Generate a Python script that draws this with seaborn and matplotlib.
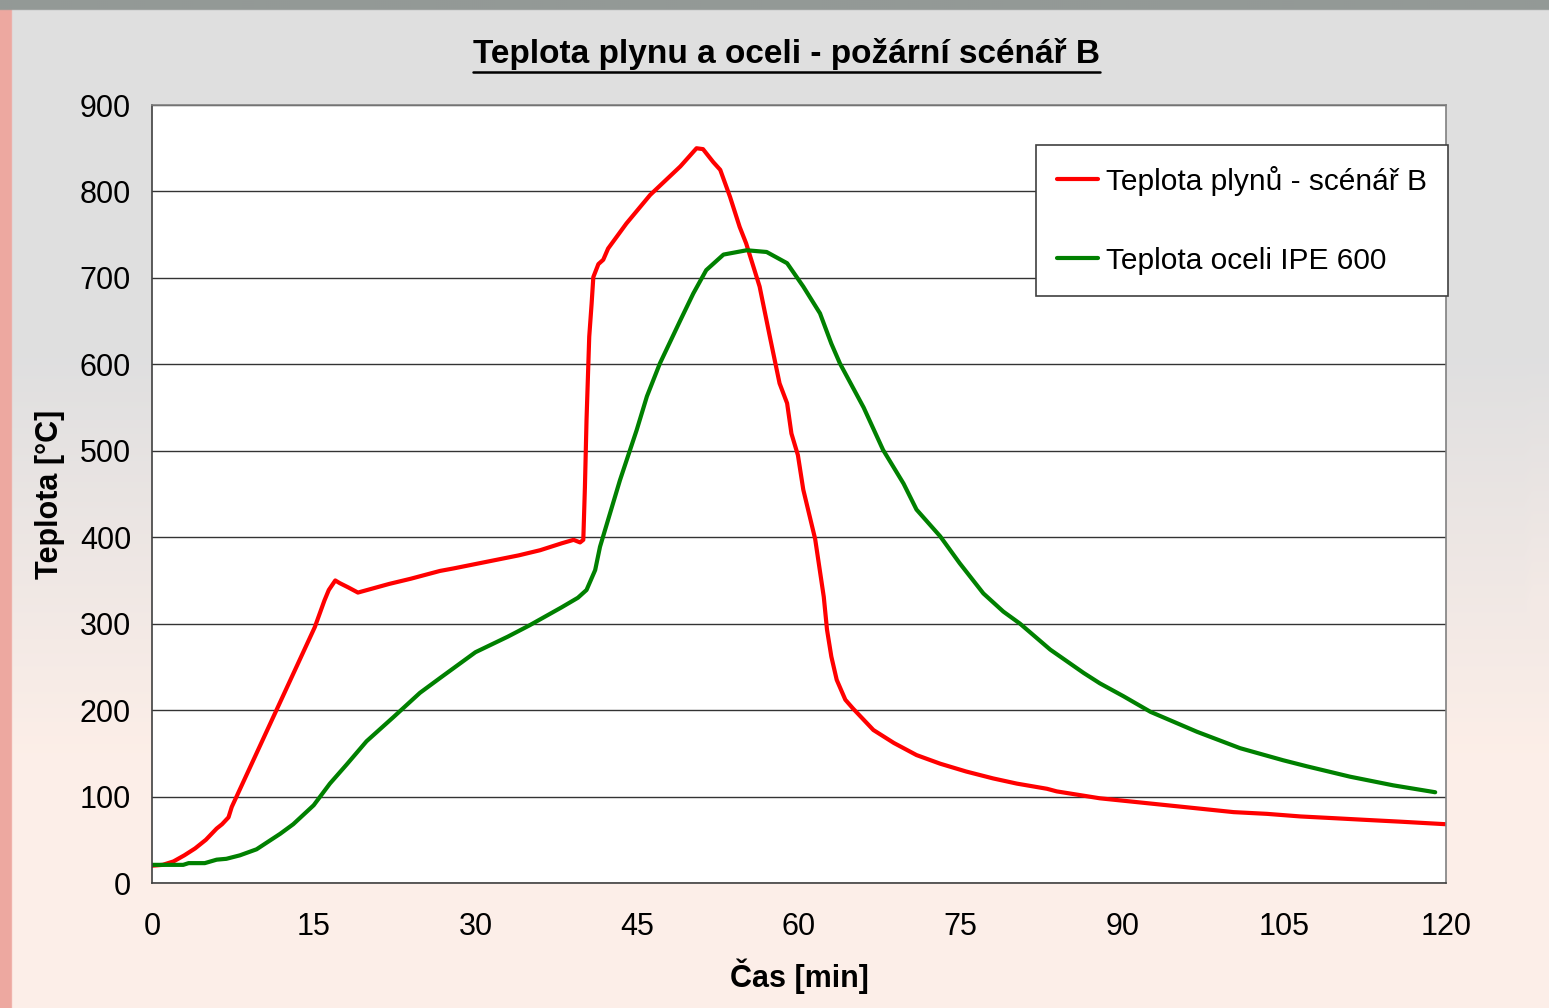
import numpy as np
import pandas as pd
import matplotlib
matplotlib.use("Agg")
import matplotlib.pyplot as plt
import seaborn as sns
from matplotlib.lines import Line2D

# Gas temperature, fire scenario B  [min, °C]
gas_time = [0, 1, 2, 3, 4, 5, 6, 6.5, 7.1, 7.4, 15.1, 16.0, 16.4, 17.0, 17.4,
            18.2, 19.1, 22, 24, 26.7, 28, 30, 32, 34, 36, 38, 39.1, 39.7, 40.0,
            40.15, 40.3, 40.55, 40.77, 40.93, 41.4, 41.85, 42.3, 44.0, 46.2, 49.0,
            50.5, 51.1, 52.05, 52.7, 53.6, 54.5, 55.1, 56.35, 57.3, 58.2, 58.9,
            59.3, 59.9, 60.4, 61.5, 62.3, 62.6, 63.0, 63.5, 64.3, 65.0, 66.9,
            68.8, 70.9, 73.1, 75.5, 78.0, 80.2, 83.0, 83.9, 87.9, 91, 94.1, 97.2,
            100.3, 103.4, 106.5, 109.6, 112.6, 115.7, 120]
gas_temp = [20, 21, 25, 32, 40, 50, 63, 68, 76, 88, 296, 327, 339, 350, 347,
            342, 336, 346, 352, 361, 364, 369, 374, 379, 385, 393, 397, 394, 397,
            458, 536, 632, 670, 701, 716, 721, 734, 763, 796, 829,
            850, 849, 834, 825, 794, 759, 740, 690, 632, 578, 555,
            520, 495, 455, 398, 331, 293, 262, 235, 212, 202, 177,
            162, 148, 138, 129, 121, 115, 109, 106, 98, 94, 90, 86,
            82, 80, 77, 75, 73, 71, 68]

# Steel temperature, IPE 600 section  [min, °C]
steel_time = [0, 2.9, 3.4, 4.9, 6.0, 6.9, 8.15, 9.7, 11.9, 13.1, 15.0, 16.5,
              18.05, 19.9, 22.4, 24.85, 26.7, 30, 33, 35, 38, 39.5, 40.3, 41.1,
              41.55, 43.4, 44.95, 45.9, 47.1, 49.0, 50.2, 51.4, 53.0, 55.15, 57.0,
              58.9, 60.4, 61.95, 63.0, 63.8, 66, 67.8, 69.7, 70.9, 73.1, 74.9,
              77.1, 78.95, 80.5, 83.3, 86.4, 87.9, 90.1, 92.6, 96.9, 100.9, 104.9,
              107.1, 111.1, 115.1, 119.0]
steel_temp = [21, 21, 23, 23, 27, 28, 32, 39, 57, 68, 90, 115,
              137, 164, 192, 220, 237, 267, 285, 298, 319, 330, 339, 362,
              389, 466, 524, 563, 601, 651, 682, 709, 727, 732, 730,
              717, 690, 659, 624, 601, 550, 501, 462, 432, 401, 370,
              335, 314, 300, 270, 243, 231, 216, 198, 175, 156, 142,
              135, 123, 113, 105]

x_ticks = list(range(0, 121, 15))
y_ticks = list(range(0, 901, 100))
gas_label = "Teplota plynů - scénář B"
steel_label = "Teplota oceli IPE 600"
title_text = "Teplota plynu a oceli - požární scénář B"

sns.set_style("white")
plt.rcParams["font.family"] = ["Liberation Sans", "DejaVu Sans"]
plt.rcParams["text.color"] = "black"
plt.rcParams["axes.labelcolor"] = "black"

fig = plt.figure(figsize=(15.49, 10.08), dpi=100)

# soft warm backdrop behind the chart
bg = fig.add_axes([0, 0, 1, 1], zorder=-10)
H, W = 504, 775
yy = np.linspace(0, 1, H)[:, None]
xx = np.linspace(0, 1, W)[None, :]
gray = np.array([0.875, 0.875, 0.878])
warm = np.array([0.99, 0.935, 0.91])
blend = np.clip((yy - 0.35) / 0.4, 0, 1)
blend = np.maximum(blend, 0.7 * np.clip((xx - 0.94) / 0.05, 0, 1) * np.clip((yy - 0.35) / 0.25, 0, 1))
img = gray[None, None, :] * (1 - blend[..., None]) + warm[None, None, :] * blend[..., None]
img[:, :6, :] = [0.93, 0.66, 0.63]
img[:5, :, :] = [0.58, 0.6, 0.59]
bg.imshow(img, aspect="auto", extent=[0, 1, 0, 1], origin="upper")
bg.set_axis_off()

ax = fig.add_axes([0.0981, 0.124, 0.8354, 0.7718])
ax.set_facecolor("white")

sns.lineplot(x=gas_time, y=gas_temp, ax=ax, color="#ff0000", linewidth=3,
             label=gas_label, sort=False, estimator=None)
sns.lineplot(x=steel_time, y=steel_temp, ax=ax, color="#008000", linewidth=3,
             label=steel_label, sort=False, estimator=None)

ax.set_xlim(0, 120)
ax.set_ylim(0, 900)
ax.set_xticks(x_ticks)
ax.set_yticks(y_ticks)
ax.yaxis.grid(True, color="#333333", linewidth=1.0)
ax.xaxis.grid(False)
ax.set_axisbelow(True)
ax.tick_params(axis="both", direction="out", length=7, width=1.0,
               color="#404040", labelsize=22, labelcolor="black")
ax.tick_params(axis="x", pad=14)
ax.tick_params(axis="y", pad=8)
for side in ("left", "bottom"):
    ax.spines[side].set_color("#404040")
    ax.spines[side].set_linewidth(1.2)
for side in ("right", "top"):
    ax.spines[side].set_color("#808080")
    ax.spines[side].set_linewidth(1.2)

ax.set_xlabel("Čas [min]", fontsize=22, fontweight="bold", labelpad=12)
ax.set_ylabel("Teplota [°C]", fontsize=22, fontweight="bold", labelpad=11)

leg = ax.legend(loc="upper left", bbox_to_anchor=(0.683, 0.9486), fontsize=21.5,
                frameon=True, fancybox=False, borderpad=0.7, labelspacing=1.7,
                handlelength=1.4, handletextpad=0.25, borderaxespad=0)
leg.get_frame().set_edgecolor("#404040")
leg.get_frame().set_linewidth(1.2)
leg.get_frame().set_facecolor("white")
leg.get_frame().set_alpha(1)

# underlined bold title
title = fig.text(0.508, 0.946, title_text, ha="center", va="center",
                 fontsize=24, fontweight="bold", color="black")
fig.canvas.draw()
bb = title.get_window_extent(fig.canvas.get_renderer())
fw, fh = fig.bbox.width, fig.bbox.height
uy = (bb.y0 - 2) / fh
fig.add_artist(Line2D([bb.x0 / fw, bb.x1 / fw], [uy, uy], color="black",
                      linewidth=1.8, transform=fig.transFigure))

fig.savefig("out.png", dpi=100)
